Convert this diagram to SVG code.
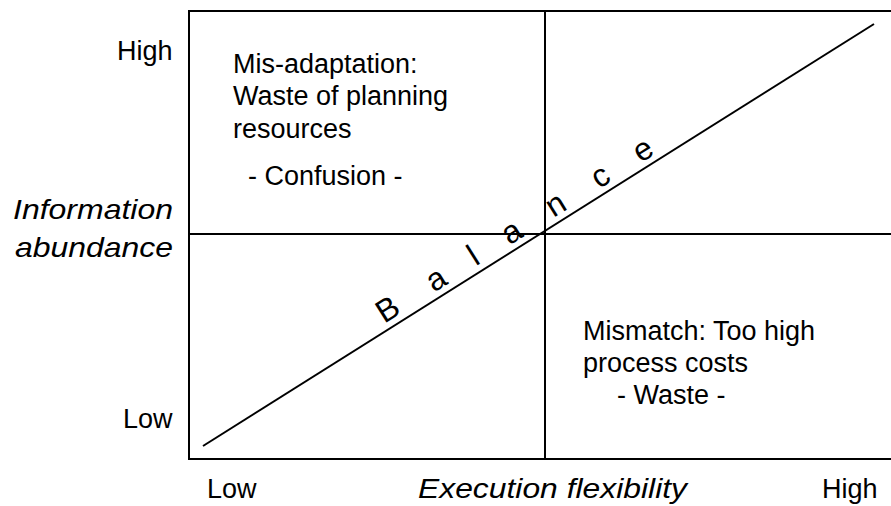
<svg xmlns="http://www.w3.org/2000/svg" width="891" height="506" viewBox="0 0 891 506">
<style>
.ln{stroke:#000;stroke-width:2;fill:none}
.t{font-family:"Liberation Sans",Arial,sans-serif;font-size:27px;fill:#000}
.it{font-family:"Liberation Sans",Arial,sans-serif;font-size:28px;font-style:italic;fill:#000}
.bal{font-family:"Liberation Sans",Arial,sans-serif;font-size:32px;fill:#000}
</style>
<rect width="891" height="506" fill="#fff"/>
<g id="frame">
<rect class="ln" x="189" y="11" width="710" height="448"/>
<line class="ln" x1="545" y1="11" x2="545" y2="459"/>
<line class="ln" x1="189" y1="234" x2="891" y2="234"/>
</g>
<g id="connectors">
<line class="ln" x1="203" y1="446" x2="874" y2="24"/>
</g>
<g id="balance">
<text class="bal" text-anchor="middle" transform="translate(203,446) rotate(-32.1)" x="229 286 330 375 427 480 530" y="-7">Balance</text>
</g>
<g id="axis-y">
<text class="t" x="117" y="60">High</text>
<text class="t" x="123" y="428">Low</text>
<text class="it" x="173" y="219" text-anchor="end" textLength="160" lengthAdjust="spacingAndGlyphs">Information</text>
<text class="it" x="173" y="257" text-anchor="end" textLength="158" lengthAdjust="spacingAndGlyphs">abundance</text>
</g>
<g id="axis-x">
<text class="t" x="207" y="498">Low</text>
<text class="it" x="418" y="498" textLength="269" lengthAdjust="spacingAndGlyphs">Execution flexibility</text>
<text class="t" x="822" y="498">High</text>
</g>
<g id="quadrant-top-left">
<text class="t" x="233" y="73">Mis-adaptation:</text>
<text class="t" x="233" y="105">Waste of planning</text>
<text class="t" x="233" y="138">resources</text>
<text class="t" x="248" y="185">- Confusion -</text>
</g>
<g id="quadrant-bottom-right">
<text class="t" x="583" y="340">Mismatch: Too high</text>
<text class="t" x="583" y="372">process costs</text>
<text class="t" x="617" y="404">- Waste -</text>
</g>
</svg>
